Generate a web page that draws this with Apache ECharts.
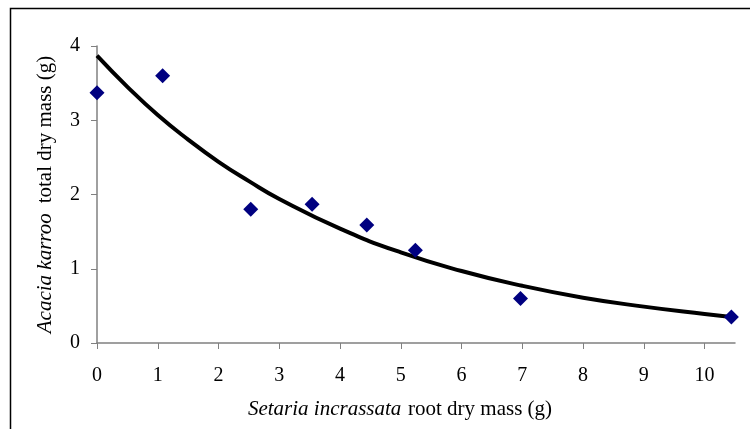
<!DOCTYPE html>
<html><head><meta charset="utf-8">
<script src="https://cdn.jsdelivr.net/npm/echarts@6/dist/echarts.min.js"></script>
<style>html,body{margin:0;padding:0;background:#fff}#c{width:750px;height:429px}</style>
</head><body><div id="c"></div>
<script>
var obsX = [0, 1.08, 2.53, 3.54, 4.44, 5.24, 6.97, 10.44];
var obsY = [3.37, 3.60, 1.80, 1.87, 1.59, 1.25, 0.60, 0.35];
var fitX = [0, 0.5, 1, 1.5, 2, 2.5, 3, 4, 5, 6, 7, 8, 9, 10, 10.44];
var fitY = [3.87, 3.45, 3.07, 2.74, 2.44, 2.18, 1.94, 1.54, 1.22, 0.97, 0.77, 0.61, 0.49, 0.39, 0.35];
var xTicks = [0,1,2,3,4,5,6,7,8,9,10];
var yTicks = [0,1,2,3,4];

var chart = echarts.init(document.getElementById('c'));
var font = 'Liberation Serif';
chart.setOption({
  animation: false,
  backgroundColor: '#fff',
  graphic: [{type:'rect', shape:{x:10.5,y:8.5,width:800,height:500}, style:{fill:'none', stroke:'#000', lineWidth:1.5}, z:-1}],
  grid: {left: 97, right: 15, top: 46, bottom: 86},
  xAxis: {
    type:'value', min:0, max:10.5, interval:1,
    axisLine:{lineStyle:{color:'#808080', width:1.5}},
    axisTick:{show:true, length:6, customValues:xTicks, lineStyle:{color:'#808080'}},
    axisLabel:{customValues:xTicks, color:'#000', fontFamily:font, fontSize:20, margin:23},
    splitLine:{show:false},
    nameLocation:'middle', nameGap:56,
    name:'{i|Setaria incrassata}  {n|root dry mass (g)}',
    nameTextStyle:{padding:[0,32,0,0], rich:{i:{fontStyle:'italic', fontFamily:font, fontSize:21, color:'#000'}, n:{fontFamily:font, fontSize:21, color:'#000'}}}
  },
  yAxis: {
    type:'value', min:0, max:4, interval:1,
    axisLine:{show:true, lineStyle:{color:'#808080', width:1.5}},
    axisTick:{show:true, length:6, lineStyle:{color:'#808080'}},
    axisLabel:{customValues:yTicks, color:'#000', fontFamily:font, fontSize:20, margin:17},
    splitLine:{show:false},
    nameLocation:'middle', nameGap:41,
    name:'{i|Acacia karroo}   {n|total dry mass (g)}',
    nameTextStyle:{rich:{i:{fontStyle:'italic', fontFamily:font, fontSize:21, color:'#000'}, n:{fontFamily:font, fontSize:21, color:'#000'}}}
  },
  series: [
    {type:'line', data: fitX.map(function(x,i){return [x, fitY[i]];}), smooth:true, showSymbol:false,
     lineStyle:{color:'#000', width:4}, z:2},
    {type:'scatter', data: obsX.map(function(x,i){return [x, obsY[i]];}), symbol:'diamond', symbolSize:[15,15],
     itemStyle:{color:'#000080', opacity:1}, z:3}
  ]
});
</script></body></html>
